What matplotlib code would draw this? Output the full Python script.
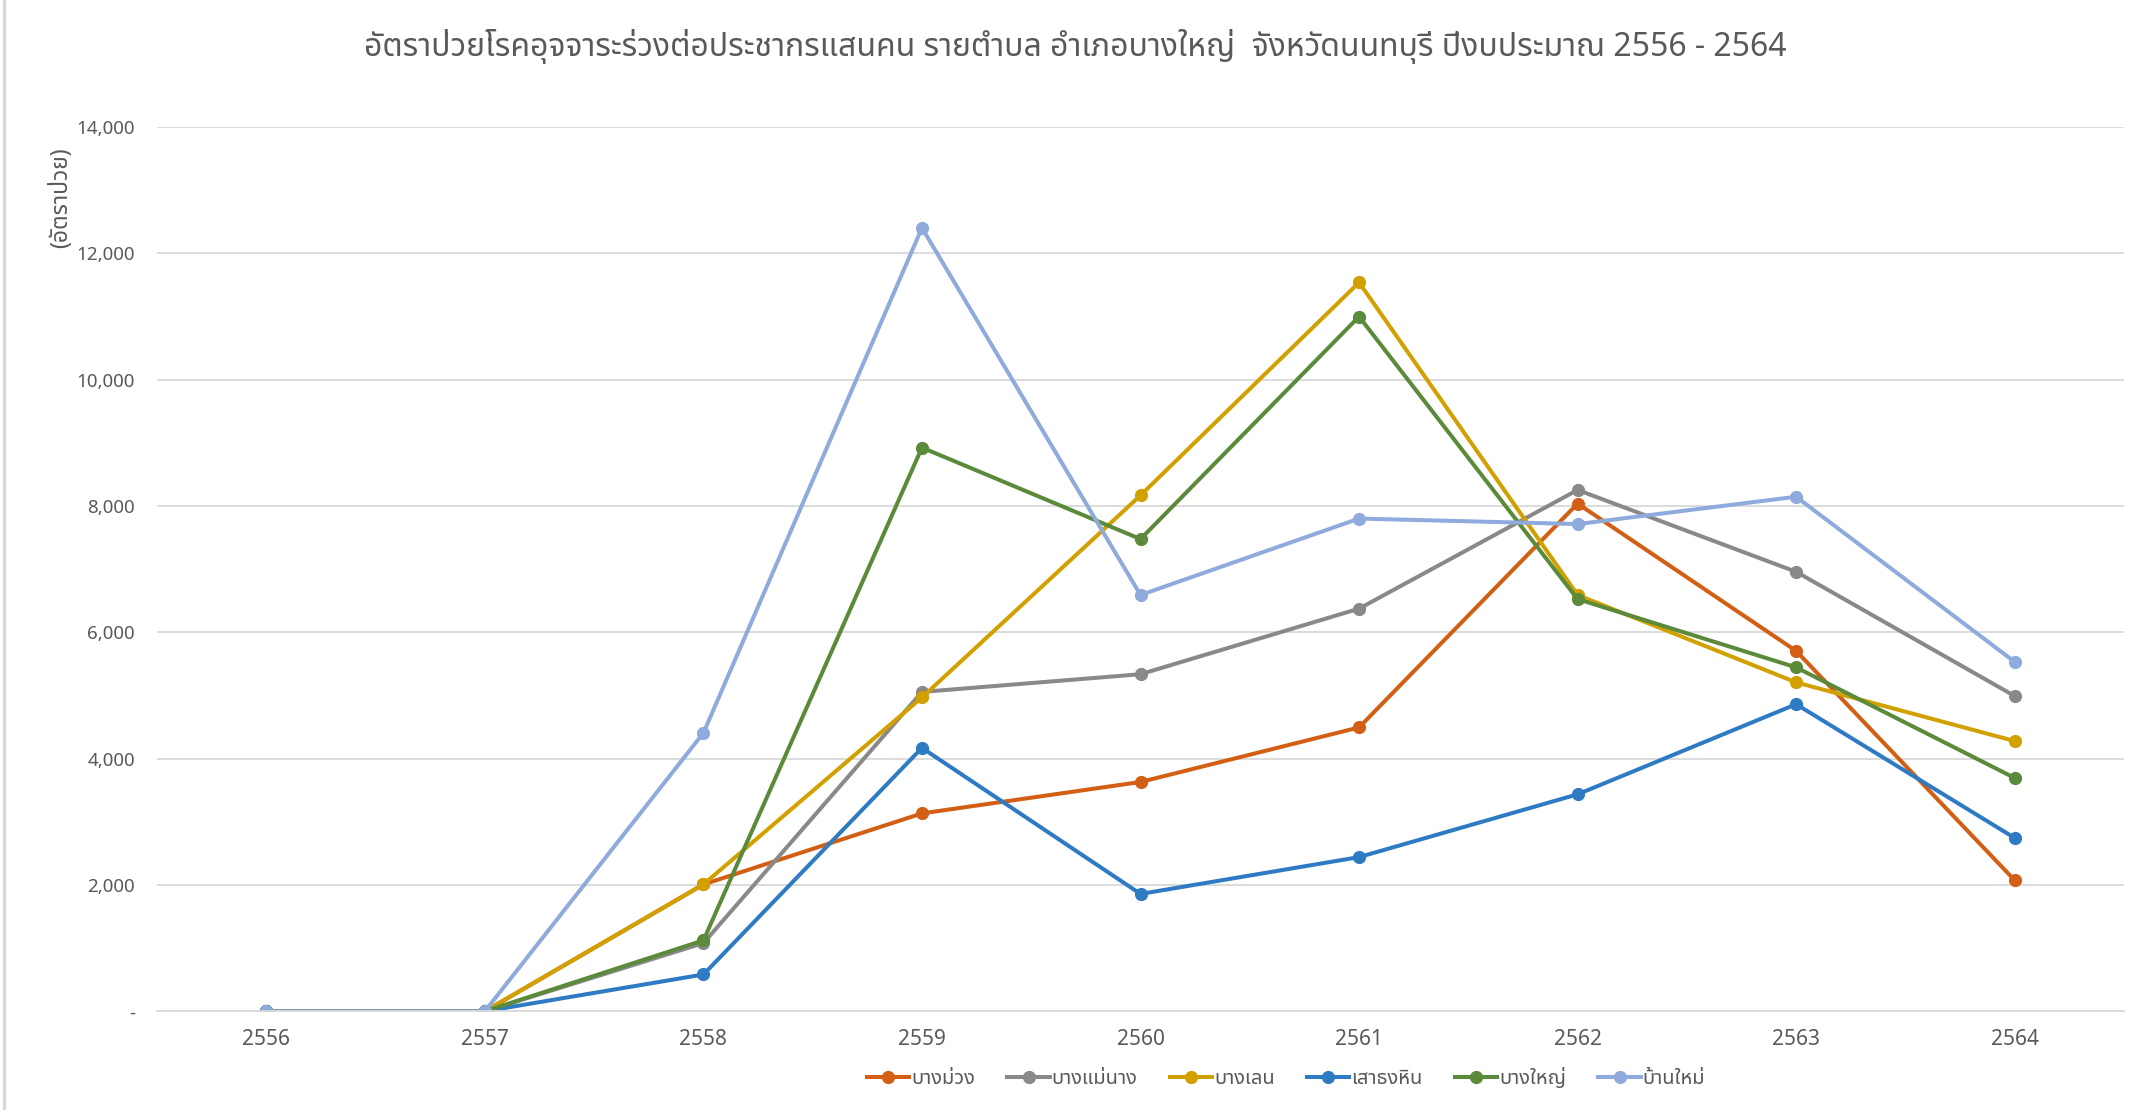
import matplotlib
matplotlib.use("Agg")
import matplotlib.pyplot as plt
from matplotlib.lines import Line2D
from matplotlib.ticker import FuncFormatter

plt.rcParams['font.family'] = ['Noto Sans Thai', 'Noto Sans', 'DejaVu Sans']

years = ['2556', '2557', '2558', '2559', '2560', '2561', '2562', '2563', '2564']

bang_muang = [0, 0, 2009, 3133, 3630, 4494, 8037, 5704, 2074]
bang_mae_nang = [0, 0, 1080, 5056, 5336, 6374, 8253, 6957, 4991]
bang_len = [0, 0, 2009, 4969, 8167, 11537, 6590, 5207, 4278]
sao_thong_hin = [0, 0, 583, 4170, 1858, 2441, 3435, 4861, 2744]
bang_yai = [0, 0, 1123, 8923, 7475, 10997, 6525, 5444, 3694]
ban_mai = [0, 0, 4407, 12401, 6590, 7800, 7713, 8145, 5531]

series_names = ['บางม่วง', 'บางแม่นาง', 'บางเลน', 'เสาธงหิน', 'บางใหญ่', 'บ้านใหม่']
series_values = [bang_muang, bang_mae_nang, bang_len, sao_thong_hin, bang_yai, ban_mai]
colors = ['#D25F14', '#898989', '#D2A000', '#2E7BC4', '#5A8A3A', '#8FAADC']

title = 'อัตราป่วยโรคอุจจาระร่วงต่อประชากรแสนคน รายตำบล อำเภอบางใหญ่  จังหวัดนนทบุรี ปีงบประมาณ 2556 - 2564'
ylabel = '(อัตราป่วย)'
text_color = '#595959'
grid_color = '#D9D9D9'

fig = plt.figure(figsize=(21.4, 11.1), dpi=100)
ax = fig.add_axes([0.0734, 0.0889, 0.9191, 0.7968])

x = list(range(len(years)))
for name, vals, c in zip(series_names, series_values, colors):
    ax.plot(x, vals, color=c, linewidth=2.9, marker='o', markersize=8.5,
            solid_joinstyle='round', solid_capstyle='round', label=name)

ax.set_xlim(-0.5, len(years) - 0.5)
ax.set_ylim(0, 14000)
ax.set_yticks(range(0, 14001, 2000))
ax.yaxis.set_major_formatter(FuncFormatter(lambda v, p: '-' if v == 0 else '{:,.0f}'.format(v)))
ax.set_xticks(x)
ax.set_xticklabels(years)
ax.tick_params(axis='both', length=0, labelcolor=text_color)
ax.tick_params(axis='y', pad=16, labelsize=13.5)
ax.tick_params(axis='x', pad=13, labelsize=15)
ax.grid(axis='y', color=grid_color, linewidth=1.3)
ax.set_axisbelow(True)
for s in ['top', 'right', 'left']:
    ax.spines[s].set_visible(False)
ax.spines['bottom'].set_color(grid_color)
ax.spines['bottom'].set_linewidth(1.3)

fig.text(0.5023, 0.958, title, ha='center', va='center', fontsize=23, color=text_color)
fig.text(0.0285, 0.8216, ylabel, ha='center', va='center', rotation=90, fontsize=16.5, color=text_color)

handles = [Line2D([0], [0], color=c, linewidth=2.9, marker='o', markersize=8.5) for c in colors]
fig.legend(handles, series_names, loc='center', bbox_to_anchor=(0.601, 0.028), ncol=6,
           frameon=False, fontsize=14.5, labelcolor=text_color, handlelength=2.1,
           handletextpad=0.1, columnspacing=1.6)

# left border of the chart area
fig.add_artist(Line2D([0.002, 0.002], [0.0, 1.0], color=grid_color, linewidth=2.5))

fig.savefig('out.png', dpi=100)
